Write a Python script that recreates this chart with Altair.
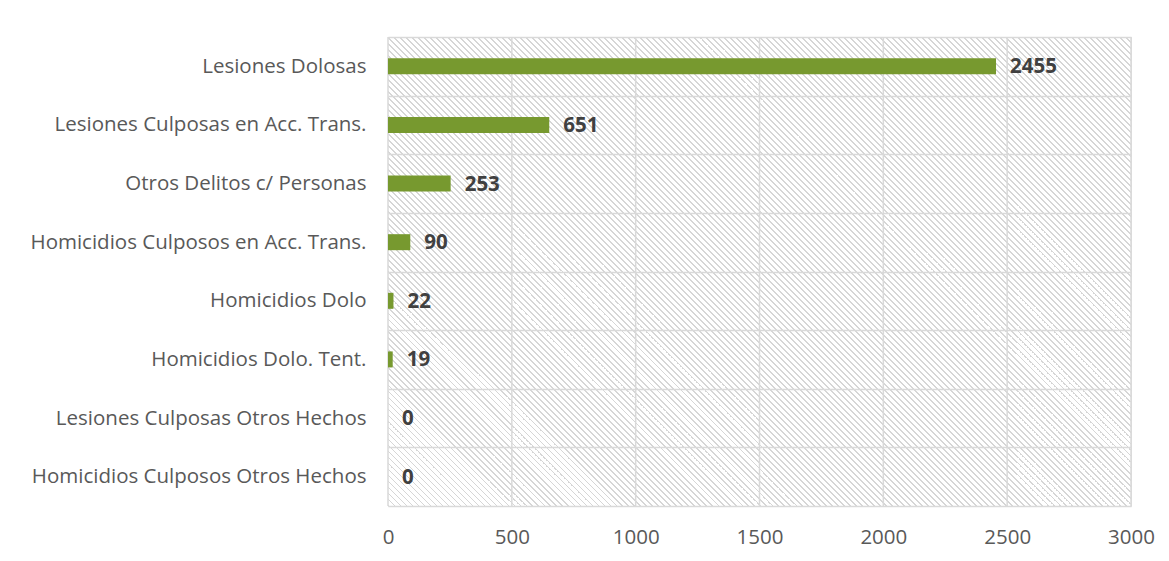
import altair as alt
import pandas as pd

categories = [
    "Lesiones Dolosas",
    "Lesiones Culposas en Acc. Trans.",
    "Otros Delitos c/ Personas",
    "Homicidios Culposos en Acc. Trans.",
    "Homicidios Dolo",
    "Homicidios Dolo. Tent.",
    "Lesiones Culposas Otros Hechos",
    "Homicidios Culposos Otros Hechos",
]
values = [2455, 651, 253, 90, 22, 19, 0, 0]
x_ticks = [0, 500, 1000, 1500, 2000, 2500, 3000]
x_domain = [0, 3000]

W, H = 743, 469
FONT = "Open Sans"
LABEL_SIZE = 20.5
GRID = "#d9d9d9"

df = pd.DataFrame({"category": categories, "value": values})
ticks_df = pd.DataFrame({"tick": x_ticks})
bg_df = pd.DataFrame({"lo": [x_domain[0]], "hi": [x_domain[1]]})

# diagonal hatch texture as a striped linear gradient (style only)
a, b = 1.0, -H / W
n2 = a * a + b * b
s_end = (1 - b) / n2
x1, y1 = 0.0, 1.0
x2, y2 = x1 + s_end * a, y1 + s_end * b
n_stripes = (W + H) // 6
line_frac = 0.25
stops = []
for i in range(n_stripes):
    o0 = i / n_stripes
    o1 = (i + line_frac) / n_stripes
    stops.append(alt.GradientStop(offset=o0, color="#d6d6d6"))
    stops.append(alt.GradientStop(offset=o1, color="#d6d6d6"))
    stops.append(alt.GradientStop(offset=o1, color="#ffffff"))
    stops.append(alt.GradientStop(offset=(i + 1) / n_stripes, color="#ffffff"))
hatch = alt.LinearGradient(gradient="linear", stops=stops, x1=x1, y1=y1, x2=x2, y2=y2)

x_scale = alt.Scale(domain=x_domain, nice=False, zero=True)
y_enc = alt.Y(
    "category:N",
    sort=categories,
    scale=alt.Scale(paddingInner=0, paddingOuter=0),
    axis=alt.Axis(
        title=None,
        ticks=False,
        domain=False,
        grid=True,
        gridColor=GRID,
        gridWidth=1.5,
        tickBand="extent",
        labelPadding=22,
        labelFont=FONT,
        labelFontSize=LABEL_SIZE,
        labelColor="#595959",
        labelLimit=500,
        zindex=1,
    ),
)

bg = alt.Chart(bg_df).mark_rect(fill=hatch, stroke=None).encode(
    x=alt.X("lo:Q", scale=x_scale,
            axis=alt.Axis(title=None, ticks=False, domain=False, grid=False,
                          values=x_ticks, format="d", labelPadding=21,
                          labelFlush=False,
                          labelFont=FONT, labelFontSize=LABEL_SIZE,
                          labelColor="#595959")),
    x2="hi:Q",
)

vrules = alt.Chart(ticks_df).mark_rule(color=GRID, strokeWidth=1.5).encode(
    x=alt.X("tick:Q", scale=x_scale)
)

bars = alt.Chart(df).mark_bar(size=16, color="#77992f").encode(
    x=alt.X("value:Q", scale=x_scale),
    y=y_enc,
)

labels = alt.Chart(df).mark_text(
    align="left", baseline="middle", dx=14, dy=1, font=FONT, fontSize=LABEL_SIZE,
    fontWeight="bold", color="#404040",
).encode(
    x=alt.X("value:Q", scale=x_scale),
    y=alt.Y("category:N", sort=categories),
    text=alt.Text("value:Q"),
)

chart = alt.layer(bg, vrules, bars, labels).properties(
    width=W,
    height=H,
    autosize=alt.AutoSizeParams(type="none"),
    padding={"left": 380, "top": 29, "right": 30, "bottom": 47},
).configure_view(stroke=None).configure(background="#ffffff")

chart.save("out.html", embed_options={"renderer": "svg", "actions": False})
